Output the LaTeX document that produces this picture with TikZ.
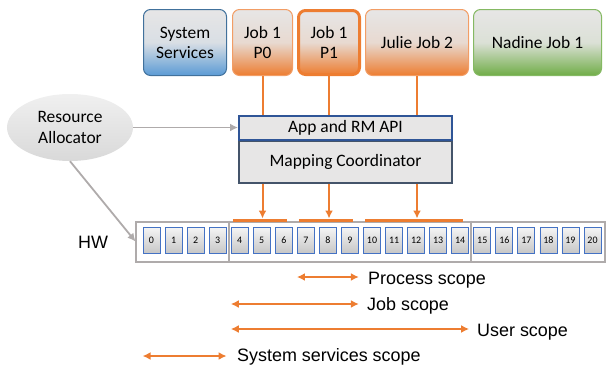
\documentclass[tikz,border=0pt]{standalone}
\usepackage{fontspec}
\setmainfont{Carlito}
\newfontfamily\arialfont{Liberation Sans}
\usetikzlibrary{shapes.geometric,calc,arrows.meta}
\definecolor{boxgray}{HTML}{E7E6E6}
\definecolor{jorange}{HTML}{ED7D31}
\definecolor{sblue}{HTML}{5B9BD5}
\definecolor{sblueline}{HTML}{41719C}
\definecolor{ngreen}{HTML}{70AD47}
\definecolor{apiblue}{HTML}{2F5597}
\definecolor{mapline}{HTML}{44546A}
\definecolor{hwgray}{HTML}{AFABAB}
\definecolor{cellblue}{HTML}{4472C4}
\tikzset{
	topbox/.style={rounded corners=7bp, minimum height=66bp, inner sep=0pt, align=center,
		font=\fontsize{17.5}{20}\selectfont, line width=1bp},
	sysbox/.style={topbox, draw=sblueline, top color=boxgray, bottom color=sblue, middle color=boxgray!90!sblue},
	jobbox/.style={topbox, draw=jorange!75, top color=boxgray, bottom color=jorange, middle color=boxgray!88!jorange},
	nadbox/.style={topbox, draw=ngreen!85, top color=boxgray, bottom color=ngreen, middle color=boxgray!90!ngreen},
	layer/.style={fill=boxgray, line width=2bp, minimum width=213bp, inner sep=0pt,
		font=\fontsize{17.5}{20}\selectfont},
	cell/.style={draw=cellblue, line width=0.8bp, top color=white!96!black, bottom color=black!22,
		minimum width=17bp, minimum height=26bp, inner sep=0pt, font=\fontsize{10}{12}\selectfont},
	hwline/.style={draw=hwgray, line width=2bp},
	jobline/.style={draw=jorange, line width=2bp},
	orangebar/.style={draw=jorange, line width=2.5bp, shorten <=2bp, shorten >=6bp},
	grayarrow/.style={draw=hwgray, line width=1.8bp, ->},
	scopearrow/.style={draw=jorange, line width=2bp, <->},
	scopelabel/.style={anchor=base west, inner sep=0pt, font=\arialfont\fontsize{18}{21}\selectfont}
}
\begin{document}
\begin{tikzpicture}[x=1bp, y=-1bp, >={Latex[length=8bp,width=8bp]}]
	\useasboundingbox (0,0) rectangle (607,364);
	\node[sysbox, minimum width=83bp] (sys) at (185,42.5) {System\\Services};
	\node[jobbox, minimum width=60bp] (p0) at (262.5,42.5) {Job 1\\P0};
	\node[jobbox, draw=jorange, line width=3bp, minimum width=61bp, minimum height=64bp] (p1) at (329,42.5) {Job 1\\P1};
	\node[jobbox, minimum width=103bp] (julie) at (417,42.5) {Julie Job 2};
	\node[nadbox, minimum width=128bp] (nadine) at (537.5,42.5) {Nadine Job 1};

	\node[ellipse, top color=black!6, bottom color=black!15, minimum width=126bp, minimum height=67bp,
		inner sep=0pt, align=center, font=\fontsize{17.5}{21}\selectfont] (ra) at (70,127.5) {Resource\\Allocator};

	% hardware
	\node[hwline, minimum width=468bp, minimum height=40bp] (hw) at (370.5,241.5) {};
	\foreach \i in {0,...,20}
		\node[cell] (c\i) at (151.5+22.05*\i,240) {\i};
	\coordinate (d1) at ($(c3.east)!.5!(c4.west)$);
	\coordinate (d2) at ($(c14.east)!.5!(c15.west)$);
	\draw[hwline] (d1 |- hw.north) -- (d1 |- hw.south);
	\draw[hwline] (d2 |- hw.north) -- (d2 |- hw.south);
	\node[scopelabel] (hwl) at (78,248) {HW};
	\draw[orangebar] (c4.west |- hw.north) -- (c6.east |- hw.north);
	\draw[orangebar] (c7.west |- hw.north) -- (c9.east |- hw.north);
	\draw[orangebar] (c10.west |- hw.north) -- (c14.east |- hw.north);

	\node[layer, draw=mapline, minimum height=42bp] (map) at (345.5,161.5) {Mapping Coordinator};
	\node[layer, draw=apiblue, minimum height=24bp] (api) at (345.5,127.5) {App and RM API};

	\foreach \j in {p0,p1,julie} {
		\draw[jobline] (\j.south) -- (\j.south |- api.north);
		\draw[jobline, ->, shorten >=2bp] (\j.south |- map.south) -- (\j.south |- hw.north);
	}
	\draw[grayarrow] (ra) -- (api);
	\draw[grayarrow] (ra.south) -- (hw.west);

	% scopes
	\coordinate (procy) at (0,277);
	\coordinate (joby) at (0,304);
	\coordinate (usery) at (0,329);
	\coordinate (sysy) at (0,356);
	\node[scopelabel] (procl) at (368,284) {Process scope};
	\node[scopelabel] (jobl) at (367,310.7) {Job scope};
	\node[scopelabel] (userl) at (477,336) {User scope};
	\node[scopelabel] (sysl) at (237,361) {System services scope};
	\draw[scopearrow] (c7.west |- procy) -- (c9.east |- procy);
	\draw[scopearrow] (c4.west |- joby) -- (c9.east |- joby);
	\draw[scopearrow] (c4.west |- usery) -- (c14.east |- usery);
	\draw[scopearrow] (c0.west |- sysy) -- (c3.east |- sysy);
\end{tikzpicture}
\end{document}
